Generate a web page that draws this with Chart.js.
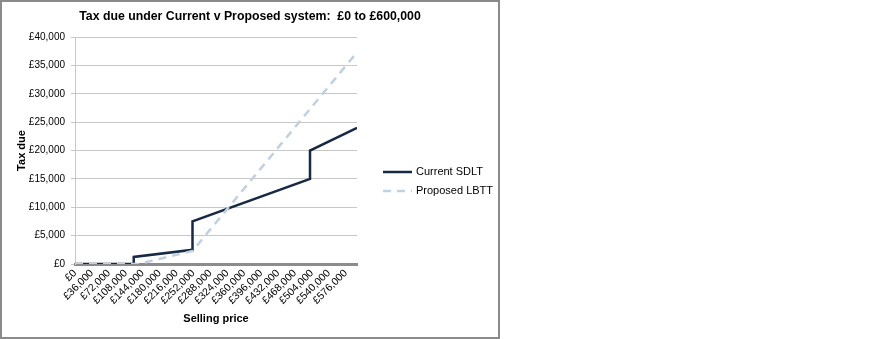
<!DOCTYPE html>
<html>
<head>
<meta charset="utf-8">
<script src="https://cdn.jsdelivr.net/npm/chart.js@4.4.1/dist/chart.umd.min.js"></script>
<style>
  html, body { margin: 0; padding: 0; background: #ffffff; }
  canvas { display: block; }
</style>
</head>
<body>
<canvas id="chart" width="887" height="339"></canvas>
<script>
// Selling price breakpoints (£) and the tax due at each one
const currentPrices = [0, 125000, 125000, 250000, 250000, 500000, 500000, 600000];
const currentTax    = [0, 0, 1250, 2500, 7500, 15000, 20000, 24000];
const proposedPrices = [0, 135000, 250000, 600000];
const proposedTax    = [0, 0, 2300, 37300];

// Price labels shown along the horizontal axis
const xTickValues = [0, 36000, 72000, 108000, 144000, 180000, 216000, 252000, 288000,
  324000, 360000, 396000, 432000, 468000, 504000, 540000, 576000];
const yTickValues = [0, 5000, 10000, 15000, 20000, 25000, 30000, 35000, 40000];

const seriesNames = ['Current SDLT', 'Proposed LBTT'];
const chartTitle = 'Tax due under Current v Proposed system:  \u00a30 to \u00a3600,000';

const toPoints = (xs, ys) => xs.map((x, i) => ({ x: x, y: ys[i] }));
const money = v => '\u00a3' + Number(v).toLocaleString('en-GB');
const FONT = '"Liberation Sans", Arial, sans-serif';

// Outer frame, title and legend
const decorations = {
  id: 'decorations',
  beforeDraw(chart) {
    const ctx = chart.ctx;
    ctx.save();
    ctx.fillStyle = '#ffffff';
    ctx.fillRect(0, 0, chart.width, chart.height);
    ctx.strokeStyle = '#8a8a8a';
    ctx.lineWidth = 2;
    ctx.strokeRect(1, 1, 498, 337);
    ctx.restore();
  },
  afterDraw(chart) {
    const ctx = chart.ctx;
    ctx.save();
    ctx.fillStyle = '#000000';
    ctx.font = 'bold 12.3px ' + FONT;
    ctx.textAlign = 'center';
    ctx.textBaseline = 'middle';
    ctx.fillText(chartTitle, 250, 17);

    ctx.font = '11px ' + FONT;
    ctx.textAlign = 'left';
    const rows = [172, 191];
    chart.data.datasets.forEach((ds, i) => {
      const y = rows[i];
      ctx.strokeStyle = ds.borderColor;
      ctx.lineWidth = ds.borderWidth;
      ctx.setLineDash(ds.borderDash || []);
      ctx.beginPath();
      ctx.moveTo(383, y);
      ctx.lineTo(412, y);
      ctx.stroke();
      ctx.setLineDash([]);
      ctx.fillStyle = '#000000';
      ctx.fillText(ds.label, 416, y);
    });
    ctx.restore();
  }
};

new Chart(document.getElementById('chart'), {
  type: 'scatter',
  data: {
    datasets: [
      {
        label: seriesNames[0],
        data: toPoints(currentPrices, currentTax),
        showLine: true,
        borderColor: '#172a45',
        borderWidth: 2.5,
        pointRadius: 0,
        order: 1
      },
      {
        label: seriesNames[1],
        data: toPoints(proposedPrices, proposedTax),
        showLine: true,
        borderColor: '#bfd1e2',
        borderWidth: 2.5,
        borderDash: [8, 6],
        pointRadius: 0,
        order: 0
      }
    ]
  },
  options: {
    responsive: false,
    animation: false,
    layout: { padding: { left: 0, top: 37, right: 530, bottom: 0 } },
    plugins: {
      legend: { display: false },
      title: { display: false },
      tooltip: { enabled: false }
    },
    scales: {
      x: {
        type: 'linear',
        min: 0,
        max: 600000,
        afterBuildTicks(scale) {
          scale.ticks = xTickValues.map(v => ({ value: v }));
        },
        afterFit(scale) { scale.height = 75; },
        grid: { display: false, drawTicks: false },
        border: { display: true, color: '#8c8c8c', width: 3 },
        ticks: {
          autoSkip: false,
          minRotation: 45,
          maxRotation: 45,
          padding: 3,
          color: '#000000',
          font: { family: FONT, size: 10.5 },
          callback: v => money(v)
        },
        title: {
          display: true,
          text: 'Selling price',
          color: '#000000',
          font: { family: FONT, size: 11, weight: 'bold' },
          padding: { top: 0, bottom: 13 }
        }
      },
      y: {
        min: 0,
        max: 40000,
        afterBuildTicks(scale) {
          scale.ticks = yTickValues.map(v => ({ value: v }));
        },
        afterFit(scale) { scale.width = 75; },
        grid: { color: '#c8c8c8', lineWidth: 1, tickLength: 4 },
        border: { display: true, color: '#c8c8c8', width: 1 },
        ticks: {
          padding: 6,
          color: '#000000',
          font: { family: FONT, size: 10 },
          callback: v => money(v)
        },
        title: {
          display: true,
          text: 'Tax due',
          color: '#000000',
          font: { family: FONT, size: 11, weight: 'bold' },
          padding: { top: 15, bottom: 0 }
        }
      }
    }
  },
  plugins: [decorations]
});
</script>
</body>
</html>
